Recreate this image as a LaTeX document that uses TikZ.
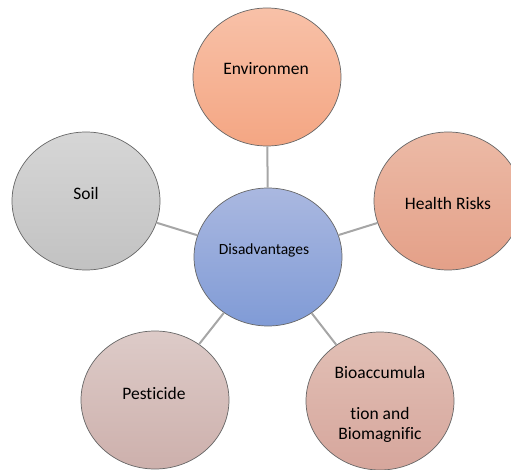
\documentclass[tikz,border=0pt]{standalone}
\usepackage{fontspec}
\setmainfont[Ligatures=CommonOff]{Carlito}
\usepackage{tikz}
\usetikzlibrary{shapes.geometric}
\definecolor{envtop}{RGB}{248,193,168}
\definecolor{envbot}{RGB}{244,166,131}
\definecolor{hrtop}{RGB}{236,186,166}
\definecolor{hrbot}{RGB}{228,160,136}
\definecolor{biotop}{RGB}{226,192,182}
\definecolor{biobot}{RGB}{214,166,156}
\definecolor{pesttop}{RGB}{221,203,200}
\definecolor{pestbot}{RGB}{205,176,172}
\definecolor{soiltop}{RGB}{214,214,214}
\definecolor{soilbot}{RGB}{194,194,194}
\definecolor{distop}{RGB}{170,184,224}
\definecolor{disbot}{RGB}{128,155,214}
\begin{document}
\begin{tikzpicture}[x=1pt, y=-1pt,
  bubble/.style={ellipse, draw=black!60, line width=0.7pt, minimum width=148pt, minimum height=138pt, inner sep=0pt},
  txt/.style={font=\fontsize{17.5}{20}\selectfont, align=center, inner sep=0pt},
  link/.style={draw=black!35, line width=2pt}]
\useasboundingbox (0,0) rectangle (511,470);
% Bubbles
\node[bubble, top color=distop, bottom color=disbot] (dis) at (268,257) {};
\node[bubble, top color=envtop, bottom color=envbot] (env) at (267,77) {};
\node[bubble, top color=hrtop, bottom color=hrbot] (hr) at (448,201) {};
\node[bubble, top color=biotop, bottom color=biobot] (bio) at (380,401) {};
\node[bubble, top color=pesttop, bottom color=pestbot] (pest) at (155,400) {};
\node[bubble, top color=soiltop, bottom color=soilbot] (soil) at (86,201) {};
% Spokes
\foreach \n in {env,hr,bio,pest,soil} \draw[link] (dis) -- (\n);
% Labels
\node[txt, font=\fontsize{15.5}{18}\selectfont] (distxt) at (264,250) {Disadvantages};
\node[txt] (envtxt) at (266,69) {Environmen};
\node[txt] (hrtxt) at (448,203) {Health Risks};
\node[txt] (biotxt) at (380,404) {Bioaccumula\\[21pt]tion and\\Biomagnific};
\node[txt] (pesttxt) at (154,393) {Pesticide};
\node[txt] (soiltxt) at (86,193) {Soil};
\end{tikzpicture}
\end{document}
